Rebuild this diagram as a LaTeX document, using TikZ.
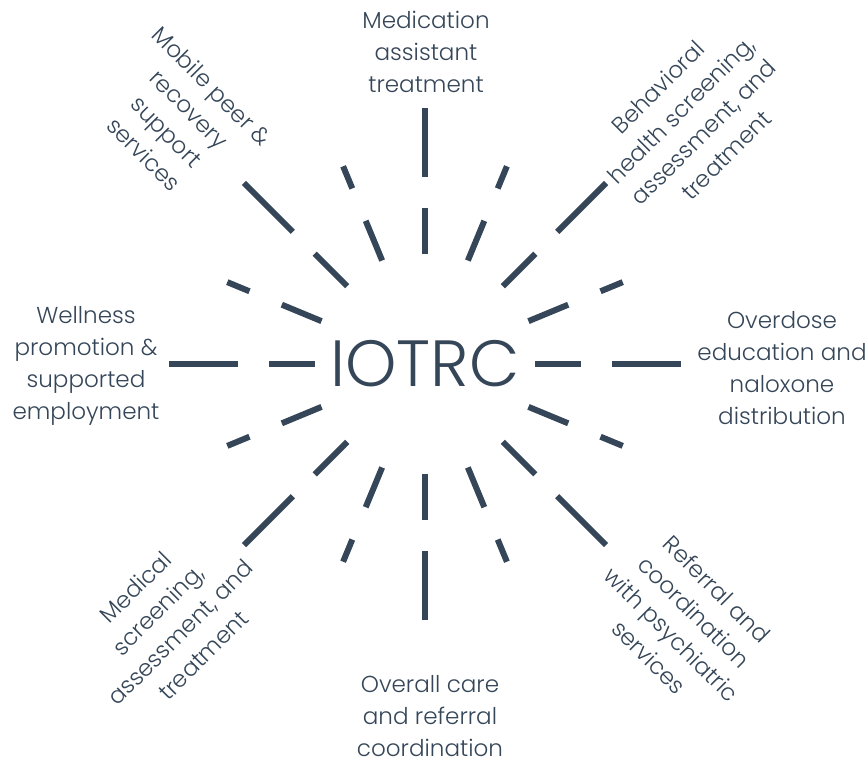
\documentclass[tikz,border=0pt]{standalone}
\usepackage{fontspec}
\setmainfont{Poppins}[UprightFont=* Light]
\usepackage{xcolor}
\usepackage{tikz}
\usetikzlibrary{calc, positioning}
\definecolor{slateink}{RGB}{53, 70, 88}

\begin{document}
\begin{tikzpicture}[
    x=0.75pt, y=-0.75pt,
    every node/.style={text=slateink},
    hub/.style={font=\fontsize{49}{52}\selectfont},
    service/.style={align=center, font=\fontsize{17.3}{24}\selectfont},
    ray/.style={draw=slateink, line width=4.5pt, line cap=butt}
]
\useasboundingbox (0,0) rectangle (866,761);

% Centre
\node[hub] (iotrc) at (425,364) {IOTRC};

% Rays: main directions
\foreach \a in {0,45,...,315} {
  \draw[ray] ($(iotrc.center)+(\a:110)$) -- ($(iotrc.center)+(\a:156)$);
  \draw[ray] ($(iotrc.center)+(\a:187)$) -- ($(iotrc.center)+(\a:256)$);
}
% Rays: in between
\foreach \a in {22.5,67.5,...,337.5} {
  \draw[ray] ($(iotrc.center)+(\a:112)$) -- ($(iotrc.center)+(\a:155)$);
  \draw[ray] ($(iotrc.center)+(\a:190)$) -- ($(iotrc.center)+(\a:214)$);
}

% Services
\node[service] (mat)      at (426,52)  {Medication\\assistant\\treatment};
\node[service] (overdose) at (782,368) {Overdose\\education and\\naloxone\\distribution};
\node[service] (care)     at (430,716) {Overall care\\and referral\\coordination};
\node[service] (wellness) at (86,366)  {Wellness\\promotion \&\\supported\\employment};
\node[service, rotate=-45] (peer)    at (178,120) {Mobile peer \&\\recovery\\support\\services};
\node[service, rotate=45]  (behav)   at (692,121) {Behavioral\\health screening,\\assessment, and\\treatment};
\node[service, rotate=45]  (medical) at (169,621) {Medical\\screening,\\assessment, and\\treatment};
\node[service, rotate=-45] (psych)   at (683,623) {Referral and\\coordination\\with psychiatric\\services};

\end{tikzpicture}
\end{document}
